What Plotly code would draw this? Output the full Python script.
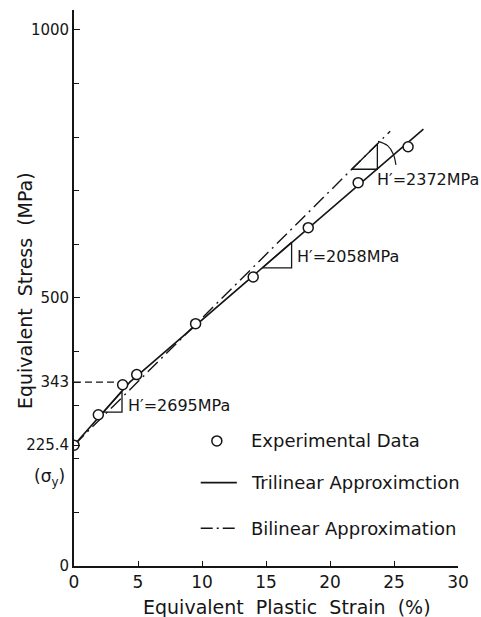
import plotly.graph_objects as go

# ---- data ----
exp_strain = [0, 1.9, 3.8, 4.9, 9.5, 14.0, 18.3, 22.2, 26.1]
exp_stress = [225.4, 282, 338, 357, 452, 539, 631, 715, 782]

tri_strain = [0, 4.36, 27.3]
tri_stress = [225.4, 343, 815]

bi_strain = [0, 24.7]
bi_stress = [225.4, 811]

yield_dash_x = [0, 4.36]
yield_dash_y = [343, 343]

# slope triangles (strain, stress)
t1_x = [2.3, 3.75, 3.75, 2.3]
t1_y = [287, 287, 326, 287]
t2_x = [14.7, 17.0, 17.0, 14.7]
t2_y = [556, 556, 604, 556]
t3_x = [21.7, 23.7, 23.7, 21.7]
t3_y = [740, 740, 787, 740]
arc_x = [23.75, 24.5, 24.95, 25.15]
arc_y = [792, 784, 768, 748]

slope_labels = ["H′=2695MPa", "H′=2058MPa", "H′=2372MPa"]
slope_label_x = [4.1, 17.3, 23.5]
slope_label_y = [300, 577, 720]

x_ticks = [0, 5, 10, 15, 20, 25, 30]
y_ticks = [0, 225.4, 343, 500, 1000]
y_ticktext = ["0", "225.4", "343", "500", "1000"]

legend_labels = ["Experimental Data", "Trilinear Approximction", "Bilinear Approximation"]

FONT = "DejaVu Sans"
INK = "#151515"

fig = go.Figure()

fig.add_trace(go.Scatter(x=bi_strain, y=bi_stress, mode="lines",
                         line=dict(color=INK, width=1.4, dash="14px,5px,2px,5px"),
                         showlegend=False, hoverinfo="skip"))
fig.add_trace(go.Scatter(x=tri_strain, y=tri_stress, mode="lines",
                         line=dict(color=INK, width=1.6),
                         showlegend=False, hoverinfo="skip"))
fig.add_trace(go.Scatter(x=yield_dash_x, y=yield_dash_y, mode="lines",
                         line=dict(color=INK, width=1.4, dash="7px,4px"),
                         showlegend=False, hoverinfo="skip"))
for tx, ty in [(t1_x, t1_y), (t2_x, t2_y), (t3_x, t3_y)]:
    fig.add_trace(go.Scatter(x=tx, y=ty, mode="lines",
                             line=dict(color=INK, width=1.3),
                             showlegend=False, hoverinfo="skip"))
fig.add_trace(go.Scatter(x=arc_x, y=arc_y, mode="lines",
                         line=dict(color=INK, width=1.2, shape="spline"),
                         showlegend=False, hoverinfo="skip"))
fig.add_trace(go.Scatter(x=exp_strain, y=exp_stress, mode="markers",
                         marker=dict(symbol="circle", size=10, color="white",
                                     line=dict(color=INK, width=1.5)),
                         showlegend=False, hoverinfo="skip"))

for txt, lx, ly in zip(slope_labels, slope_label_x, slope_label_y):
    fig.add_annotation(x=lx, y=ly, text=txt, showarrow=False, xanchor="left",
                       yanchor="middle", font=dict(family=FONT, size=16, color=INK))

# legend (manual)
leg_text_x = 0.455
leg_y = [0.225, 0.150, 0.068]
fig.add_shape(type="circle", xref="paper", yref="paper", xsizemode="pixel", ysizemode="pixel",
              xanchor=0.372, yanchor=leg_y[0], x0=-5, x1=5, y0=-5, y1=5,
              line=dict(color=INK, width=1.5))
fig.add_shape(type="line", xref="paper", yref="paper", x0=0.33, x1=0.424,
              y0=leg_y[1], y1=leg_y[1], line=dict(color=INK, width=1.6))
fig.add_shape(type="line", xref="paper", yref="paper", x0=0.33, x1=0.426,
              y0=leg_y[2], y1=leg_y[2], line=dict(color=INK, width=1.4, dash="12px,4px,2px,4px"))
for txt, yy in zip(legend_labels, leg_y):
    fig.add_annotation(xref="paper", yref="paper", x=leg_text_x, y=yy, text=txt,
                       showarrow=False, xanchor="left", yanchor="middle",
                       font=dict(family=FONT, size=18, color=INK))

# sigma_y label under 225.4
fig.add_annotation(xref="paper", yref="paper", x=-0.018, y=0.16, text="(σ<sub>y</sub>)",
                   showarrow=False, xanchor="right", yanchor="middle",
                   font=dict(family=FONT, size=17, color=INK))

# axis titles
fig.add_annotation(xref="paper", yref="paper", x=0.555, y=-0.074,
                   text="Equivalent  Plastic  Strain  (%)", showarrow=False,
                   xanchor="center", yanchor="middle",
                   font=dict(family=FONT, size=19, color=INK))
fig.add_annotation(xref="paper", yref="paper", x=-0.128, y=0.496,
                   text="Equivalent  Stress  (MPa)", showarrow=False, textangle=-90,
                   xanchor="center", yanchor="middle",
                   font=dict(family=FONT, size=19, color=INK))

fig.update_xaxes(range=[0, 30], tickvals=x_ticks, showgrid=False, zeroline=False,
                 showline=True, linecolor=INK, linewidth=1.8, ticks="inside",
                 ticklen=5, tickcolor=INK, tickfont=dict(family=FONT, size=17, color=INK))
fig.update_yaxes(range=[0, 1037], tickvals=y_ticks, ticktext=y_ticktext,
                 showgrid=False, zeroline=False, showline=True, linecolor=INK,
                 linewidth=1.8, ticks="inside", ticklen=6, tickcolor=INK,
                 minor=dict(dtick=100, ticks="inside", ticklen=5, tickcolor=INK, showgrid=False),
                 tickfont=dict(family=FONT, size=15, color=INK))

fig.update_layout(width=481, height=617, margin=dict(l=74, r=23, t=10, b=51),
                  plot_bgcolor="white", paper_bgcolor="white", showlegend=False)

fig.write_html("out.html")
